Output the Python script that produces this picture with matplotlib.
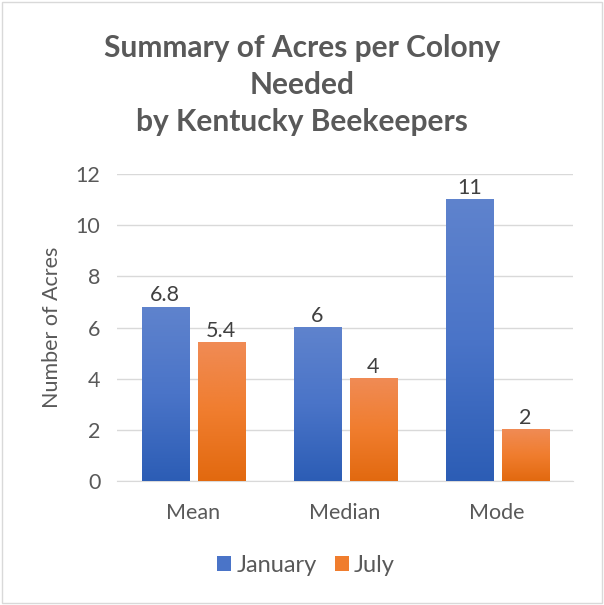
import numpy as np
import matplotlib
matplotlib.use("Agg")
import matplotlib.pyplot as plt
from matplotlib.colors import LinearSegmentedColormap
from matplotlib.patches import Rectangle

plt.rcParams['font.family'] = ['Lato', 'DejaVu Sans']

categories = ['Mean', 'Median', 'Mode']
january = [6.8, 6, 11]
july = [5.4, 4, 2]
labels_jan = ['6.8', '6', '11']
labels_jul = ['5.4', '4', '2']

text_gray = '#595959'
grid_gray = '#D9D9D9'

fig = plt.figure(figsize=(6.04, 6.05), dpi=100)
ax = fig.add_axes([0.194, 0.205, 0.755, 0.507])

x = np.arange(len(categories))
width = 0.31
off = 0.184

blue_cmap = LinearSegmentedColormap.from_list('b', ['#2C5DB5', '#4A74C8', '#5F83CD'])
orange_cmap = LinearSegmentedColormap.from_list('o', ['#E2690F', '#F07D2E', '#F08B55'])
grad = np.linspace(0, 1, 256).reshape(-1, 1)

def grad_bars(xs, vals, cmap, label):
    bars = ax.bar(xs, vals, width, color=cmap(0.5), label=label, zorder=2)
    for b in bars:
        bx, by = b.get_x(), b.get_y()
        w, h = b.get_width(), b.get_height()
        ax.imshow(grad, extent=(bx, bx + w, by, by + h), origin='lower',
                  cmap=cmap, aspect='auto', zorder=3)
    return bars

grad_bars(x - off, january, blue_cmap, 'January')
grad_bars(x + off, july, orange_cmap, 'July')

for i in range(len(categories)):
    ax.text(x[i] - off, january[i] + 0.08, labels_jan[i], ha='center', va='bottom',
            fontsize=15.5, color='#404040', zorder=4)
    ax.text(x[i] + off, july[i] + 0.08, labels_jul[i], ha='center', va='bottom',
            fontsize=15.5, color='#404040', zorder=4)

ax.set_xlim(-0.5, 2.5)
ax.set_ylim(0, 12)
ax.set_yticks(range(0, 13, 2))
ax.set_xticks(x)
ax.set_xticklabels(categories)
ax.tick_params(axis='both', length=0, labelsize=15.5, colors=text_gray)
ax.tick_params(axis='x', pad=16)
ax.tick_params(axis='y', pad=12)
ax.grid(axis='y', color=grid_gray, linewidth=1, zorder=0)
ax.set_axisbelow(True)
for s in ['top', 'right', 'left']:
    ax.spines[s].set_visible(False)
ax.spines['bottom'].set_color(grid_gray)
ax.set_ylabel('Number of Acres', fontsize=15.5, color=text_gray, labelpad=10)

fig.text(0.5, 0.86, 'Summary of Acres per Colony\nNeeded\nby Kentucky Beekeepers',
         ha='center', va='center', fontsize=21.5, fontweight='bold', color=text_gray,
         linespacing=1.4)

ax.legend(loc='center', bbox_to_anchor=(0.414, -0.274), ncol=2, frameon=False,
          fontsize=17, labelcolor=text_gray, handlelength=0.6, handleheight=0.6,
          handletextpad=0.22, columnspacing=0.75)

fig.add_artist(Rectangle((0.003, 0.003), 0.994, 0.994, transform=fig.transFigure,
                         fill=False, edgecolor=grid_gray, linewidth=1))

fig.savefig('out.png', dpi=100)
